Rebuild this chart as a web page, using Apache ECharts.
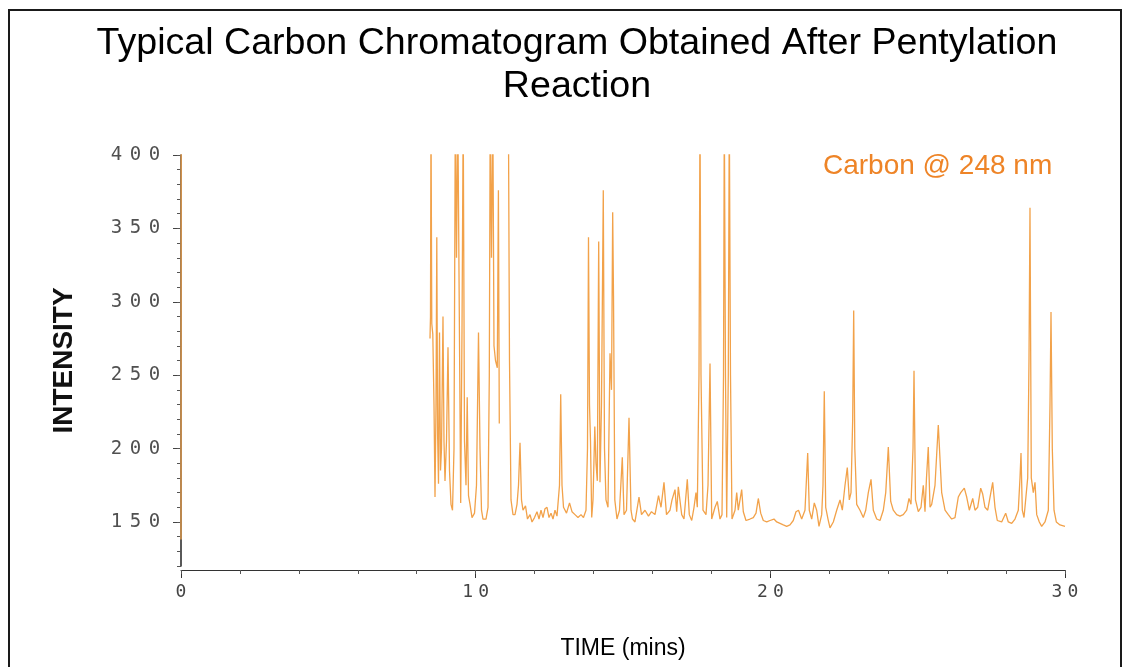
<!DOCTYPE html>
<html>
<head>
<meta charset="utf-8">
<script src="https://cdn.jsdelivr.net/npm/echarts@6/dist/echarts.min.js"></script>
<style>
html,body{margin:0;padding:0;background:#fff;}
#chart{width:1128px;height:667px;}
</style>
</head>
<body>
<div id="chart"></div>
<script>
// ---- Data ----
const chartTitle = 'Typical Carbon Chromatogram Obtained After Pentylation\nReaction';
const seriesName = 'Carbon @ 248 nm';
const xAxisName = 'TIME (mins)';
const yAxisName = 'INTENSITY';
const xTickLabels = [0, 10, 20, 30];
const yTickLabels = [150, 200, 250, 300, 350, 400];

// retention time (min) ; null intensity = pen lift
const timeMin = [
  0, 0.005, 4.0,
  8.450, 8.467, 8.484, 8.511, 8.545, 8.586, 8.620, 8.654, 8.681, 8.708, 8.739, 8.773, 8.807, 8.841,
  8.891, 8.925, 8.959, 9.010, 9.061, 9.112, 9.163, 9.214, 9.265, 9.309, 9.350, 9.394, 9.452, 9.492,
  9.536, 9.577, 9.621, 9.672, 9.713, 9.757, 9.808, 9.876, 9.961, 10.028, 10.096, 10.147, 10.198,
  10.249, 10.351, 10.419, 10.463, 10.493, 10.537, 10.582, 10.622, 10.673, 10.734, 10.772, 10.802,
  10.95,
  11.111, 11.148, 11.199, 11.267, 11.335, 11.403, 11.454, 11.505, 11.555, 11.606, 11.691, 11.759,
  11.844, 11.912, 11.997, 12.081, 12.149, 12.217, 12.285, 12.353, 12.421, 12.489, 12.557, 12.624,
  12.692, 12.760, 12.845, 12.886, 12.930, 12.981, 13.083, 13.185, 13.269, 13.371, 13.473, 13.575,
  13.659, 13.744, 13.795, 13.829, 13.863, 13.897, 13.938, 13.982, 14.043, 14.084, 14.128, 14.175,
  14.219, 14.270, 14.331, 14.372, 14.423, 14.491, 14.559, 14.610, 14.650, 14.678, 14.722, 14.796,
  14.881, 14.976, 15.034, 15.119, 15.204, 15.271, 15.322, 15.407, 15.543, 15.628, 15.747, 15.865,
  15.967, 16.086, 16.205, 16.290, 16.391, 16.476, 16.595, 16.663, 16.765, 16.822, 16.877, 16.992,
  17.070, 17.182, 17.250, 17.332, 17.410, 17.477, 17.522, 17.579, 17.613, 17.647, 17.715, 17.817,
  17.885, 17.953, 18.010, 18.122, 18.200, 18.292, 18.360, 18.411, 18.438, 18.478, 18.519, 18.573,
  18.607, 18.648, 18.699, 18.801, 18.859, 18.913, 19.028, 19.083, 19.174, 19.310, 19.422, 19.514,
  19.592, 19.673, 19.761, 19.877, 19.989, 20.124, 20.216, 20.328, 20.440, 20.555, 20.667, 20.779,
  20.871, 20.956, 21.064, 21.176, 21.268, 21.322, 21.404, 21.492, 21.573, 21.651, 21.743, 21.787,
  21.831, 21.879, 21.957, 22.025, 22.137, 22.252, 22.365, 22.443, 22.534, 22.612, 22.680, 22.738,
  22.795, 22.829, 22.867, 22.931, 23.043, 23.155, 23.237, 23.325, 23.417, 23.495, 23.610, 23.722,
  23.834, 23.916, 24.004, 24.085, 24.173, 24.288, 24.400, 24.512, 24.628, 24.706, 24.774, 24.842,
  24.876, 24.926, 25.021, 25.113, 25.191, 25.249, 25.299, 25.360, 25.419, 25.476, 25.588, 25.700,
  25.815, 25.928, 26.039, 26.155, 26.267, 26.379, 26.461, 26.583, 26.664, 26.753, 26.868, 26.946,
  27.037, 27.139, 27.207, 27.285, 27.377, 27.546, 27.624, 27.702, 27.851, 27.987, 28.076, 28.191,
  28.303, 28.415, 28.473, 28.507, 28.551, 28.609, 28.734, 28.778, 28.812, 28.856, 28.924, 28.982,
  29.040, 29.128, 29.209, 29.321, 29.434, 29.491, 29.525, 29.569, 29.627, 29.705, 29.830, 30.000
];
const intensity = [
  138, 420, null,
  275, 290, 430, 285, 278, 230, 167, 230, 344, 210, 176, 279, 185, 200,
  290, 205, 178, 205, 269, 185, 162, 158, 200, 430, 330, 430, 430, 163,
  280, 430, 205, 175, 235, 168, 162, 153, 156, 175, 279, 200, 158,
  152, 152, 160, 250, 430, 330, 430, 270, 260, 255, 376, 217,
  null,
  430, 260, 165, 155, 155, 162, 175, 204, 165, 158, 161, 152,
  155, 150, 153, 157, 152, 158, 153, 159, 160, 153, 156, 152,
  158, 154, 175, 237, 175, 160, 156, 163, 157, 155, 153, 155,
  153, 158, 200, 344, 230, 205, 153, 165, 215, 190, 178, 341,
  177, 230, 376, 200, 165, 160, 265, 240, 361, 304, 165, 152,
  158, 194, 155, 158, 221, 158, 152, 150, 167, 155, 158, 154,
  157, 155, 168, 160, 177, 155, 158, 165, 172, 157, 174, 155,
  152, 179, 155, 151, 160, 170, 160, 250, 430, 250, 158, 155,
  175, 258, 152, 160, 164, 152, 155, 250, 430, 250, 153, 250,
  430, 250, 152, 158, 170, 158, 172, 157, 151, 152, 153, 156,
  166, 156, 151, 150, 151, 152, 150, 149, 148, 147, 148, 151,
  157, 158, 152, 158, 197, 158, 152, 163, 158, 147, 155, 175,
  239, 160, 152, 146, 150, 158, 165, 158, 175, 187, 165, 170,
  220, 294, 200, 162, 158, 153, 158, 170, 179, 158, 152, 151,
  158, 170, 201, 164, 158, 155, 154, 155, 158, 166, 162, 200,
  253, 165, 157, 160, 175, 157, 180, 201, 160, 162, 175, 216,
  170, 158, 155, 152, 153, 167, 170, 173, 167, 158, 166, 158,
  160, 173, 169, 160, 158, 177, 160, 151, 150, 156, 150, 149,
  152, 158, 180, 197, 158, 153, 180, 260, 364, 180, 170, 177,
  155, 150, 147, 150, 158, 230, 293, 200, 158, 150, 148, 147
];

// ---- Build chart ----
const seriesData = timeMin.map((t, i) => [t, intensity[i]]);
const spaced = () => (v) => String(v).split('').map(c => '{d|' + c + '}').join('');
const tickFont = 'DejaVu Sans Mono';

const chart = echarts.init(document.getElementById('chart'), null, {renderer: 'canvas'});
chart.setOption({
  animation: false,
  backgroundColor: '#ffffff',
  title: {
    text: chartTitle,
    left: 577,
    textAlign: 'center',
    top: 22,
    padding: 0,
    textStyle: {fontFamily: 'Liberation Sans', fontSize: 37.6, fontWeight: 'normal', color: '#000', lineHeight: 43}
  },
  legend: {
    data: [seriesName],
    left: 818,
    top: 152,
    padding: 0,
    icon: 'none',
    itemWidth: 0,
    itemHeight: 0,
    selectedMode: false,
    textStyle: {fontFamily: 'Liberation Sans', fontSize: 28, color: '#EE8427'}
  },
  graphic: [{
    type: 'rect',
    shape: {x: 9, y: 10, width: 1112, height: 700},
    style: {fill: 'none', stroke: '#1a1a1a', lineWidth: 2},
    silent: true
  }],
  grid: {left: 181, right: 63, top: 155, height: 411, containLabel: false},
  xAxis: [{
    type: 'value', min: 0, max: 30, interval: 2,
    position: 'bottom', offset: 4,
    name: xAxisName, nameLocation: 'middle', nameGap: 67,
    nameTextStyle: {fontFamily: 'Liberation Sans', fontSize: 23, color: '#000'},
    axisLine: {show: true, lineStyle: {color: '#333', width: 1}},
    axisTick: {show: true, inside: false, length: 8, customValues: xTickLabels, lineStyle: {color: '#333'}},
    axisLabel: {
      show: true, margin: 13, customValues: xTickLabels,
      formatter: spaced(),
      rich: {d: {width: 16, align: 'center', fontFamily: tickFont, fontSize: 18, color: '#444'}}
    },
    splitLine: {show: false}
  }, {
    type: 'value', min: 0, max: 30, interval: 2,
    position: 'bottom', offset: 4,
    axisLine: {show: false},
    axisTick: {show: true, inside: false, length: 4, lineStyle: {color: '#555'}},
    axisLabel: {show: false},
    splitLine: {show: false}
  }],
  yAxis: [{
    type: 'value', min: 120, max: 400, interval: 10,
    position: 'left', offset: 5,
    name: yAxisName, nameLocation: 'middle', nameGap: 98, nameRotate: 90,
    nameTextStyle: {fontFamily: 'Liberation Sans', fontSize: 28, fontWeight: 'bold', color: '#111'},
    axisLine: {show: true, lineStyle: {color: '#222', width: 1.5}},
    axisTick: {show: true, inside: false, length: 8, customValues: yTickLabels, lineStyle: {color: '#444'}},
    axisLabel: {
      show: true, margin: 12, customValues: yTickLabels,
      formatter: spaced(),
      rich: {d: {width: 19, align: 'center', fontFamily: tickFont, fontSize: 19, color: '#505050'}}
    },
    splitLine: {show: false}
  }, {
    type: 'value', min: 120, max: 400, interval: 10,
    position: 'left', offset: 5,
    axisLine: {show: false},
    axisTick: {show: true, inside: false, length: 4, lineStyle: {color: '#555'}},
    axisLabel: {show: false},
    splitLine: {show: false}
  }],
  series: [{
    name: seriesName,
    type: 'line',
    xAxisIndex: 0,
    yAxisIndex: 0,
    data: seriesData,
    showSymbol: false,
    connectNulls: false,
    clip: true,
    lineStyle: {color: '#F2A24A', width: 1.3},
    itemStyle: {color: '#F2A24A'}
  }]
});
</script>
</body>
</html>
